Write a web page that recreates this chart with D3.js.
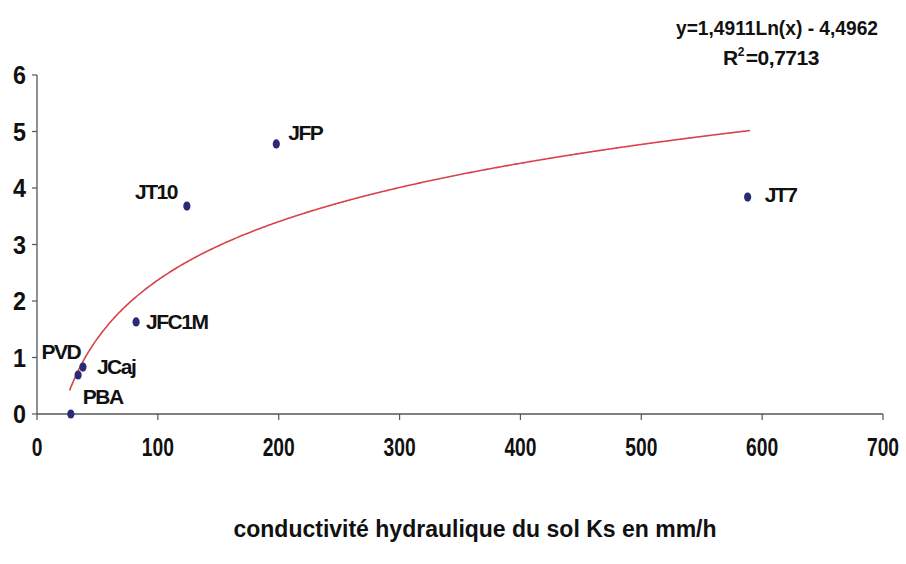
<!DOCTYPE html>
<html>
<head>
<meta charset="utf-8">
<script src="https://cdn.jsdelivr.net/npm/d3@7"></script>
<style>
  html, body { margin: 0; padding: 0; background: #fff; }
  svg { display: block; font-family: "Liberation Sans", Arial, sans-serif; }
</style>
</head>
<body>
<svg id="chart" width="906" height="564"></svg>
<script>
// ---- data ----
const sites = ["PBA", "PVD", "JCaj", "JFC1M", "JT10", "JFP", "JT7"];
const ksValues = [28, 34, 38, 82, 124, 198, 588];        // x: conductivité (mm/h)
const yValues = [0.0, 0.69, 0.83, 1.63, 3.68, 4.78, 3.84];
const xTicks = [0, 100, 200, 300, 400, 500, 600, 700];
const yTicks = [0, 1, 2, 3, 4, 5, 6];
const trendA = 1.4911, trendB = -4.4962, trendR2 = "0,7713";
const trendRange = [27, 590];
const equationText = "y=1,4911Ln(x) - 4,4962";
const xTitle = "conductivité hydraulique du sol Ks en mm/h";

// label layout (offsets from each point, px) and anchors
const labelDx = [12, 2, 14, 10, -10, 12, 17];
const labelDy = [-10, -16, 7, 7, -7, -4, 5];
const labelAnchor = ["start", "end", "start", "start", "end", "start", "start"];

// ---- chart ----
const svg = d3.select("#chart");
const x = d3.scaleLinear().domain([0, 700]).range([37, 883]);
const y = d3.scaleLinear().domain([0, 6]).range([414, 75]);
const axisColor = "#555";

// axes lines
svg.append("line").attr("x1", x(0)).attr("x2", x(700)).attr("y1", y(0)).attr("y2", y(0))
  .attr("stroke", axisColor).attr("stroke-width", 1.3);
svg.append("line").attr("x1", x(0)).attr("x2", x(0)).attr("y1", y(0)).attr("y2", y(6))
  .attr("stroke", axisColor).attr("stroke-width", 1.3);

// x ticks
svg.selectAll(".xt").data(xTicks).enter().append("line")
  .attr("x1", d => x(d)).attr("x2", d => x(d))
  .attr("y1", y(0)).attr("y2", y(0) + 6)
  .attr("stroke", axisColor).attr("stroke-width", 1.2);
svg.selectAll(".xl").data(xTicks).enter().append("text")
  .attr("x", d => x(d)).attr("y", 456)
  .attr("text-anchor", "middle")
  .attr("font-size", 26).attr("font-weight", "bold").attr("fill", "#111")
  .attr("textLength", d => String(d).length * 10.7)
  .attr("lengthAdjust", "spacingAndGlyphs")
  .text(d => d);

// y ticks
svg.selectAll(".yt").data(yTicks).enter().append("line")
  .attr("x1", x(0) - 5).attr("x2", x(0))
  .attr("y1", d => y(d)).attr("y2", d => y(d))
  .attr("stroke", axisColor).attr("stroke-width", 1.2);
svg.selectAll(".yl").data(yTicks).enter().append("text")
  .attr("x", 26).attr("y", d => y(d) + 9)
  .attr("text-anchor", "end")
  .attr("font-size", 26).attr("font-weight", "bold").attr("fill", "#111")
  .attr("textLength", 13)
  .attr("lengthAdjust", "spacingAndGlyphs")
  .text(d => d);

// trend line
const trendX = d3.range(trendRange[0], trendRange[1] + 0.5, 1);
const line = d3.line().x(d => x(d)).y(d => y(trendA * Math.log(d) + trendB)).curve(d3.curveLinear);
svg.append("path").datum(trendX).attr("d", line)
  .attr("fill", "none").attr("stroke", "#d8424a").attr("stroke-width", 1.6);

// points
const pts = sites.map((s, i) => ({ s, x: ksValues[i], y: yValues[i], i }));
svg.selectAll(".pt").data(pts).enter().append("ellipse")
  .attr("cx", d => x(d.x)).attr("cy", d => y(d.y))
  .attr("rx", 3.6).attr("ry", 4.6)
  .attr("fill", "#2a2a78");

// point labels
svg.selectAll(".pl").data(pts).enter().append("text")
  .attr("x", d => x(d.x) + labelDx[d.i])
  .attr("y", d => y(d.y) + labelDy[d.i])
  .attr("text-anchor", d => labelAnchor[d.i])
  .attr("font-size", 21).attr("font-weight", "bold").attr("fill", "#111")
  .attr("letter-spacing", -1.5)
  .text(d => d.s);

// equation
svg.append("text").attr("x", 676).attr("y", 35)
  .attr("font-size", 20).attr("font-weight", "bold").attr("fill", "#111")
  .attr("textLength", 202).attr("lengthAdjust", "spacingAndGlyphs")
  .text(equationText);
const r2 = svg.append("text").attr("x", 723).attr("y", 65)
  .attr("font-size", 21).attr("font-weight", "bold").attr("fill", "#111")
  .attr("letter-spacing", -0.5);
r2.append("tspan").text("R");
r2.append("tspan").attr("font-size", 12).attr("dy", -9).text("2");
r2.append("tspan").attr("dy", 9).attr("dx", 2).text("=" + trendR2);

// x title
svg.append("text").attr("x", 475).attr("y", 537)
  .attr("text-anchor", "middle")
  .attr("font-size", 23).attr("font-weight", "bold").attr("fill", "#111")
  .text(xTitle);
</script>
</body>
</html>
